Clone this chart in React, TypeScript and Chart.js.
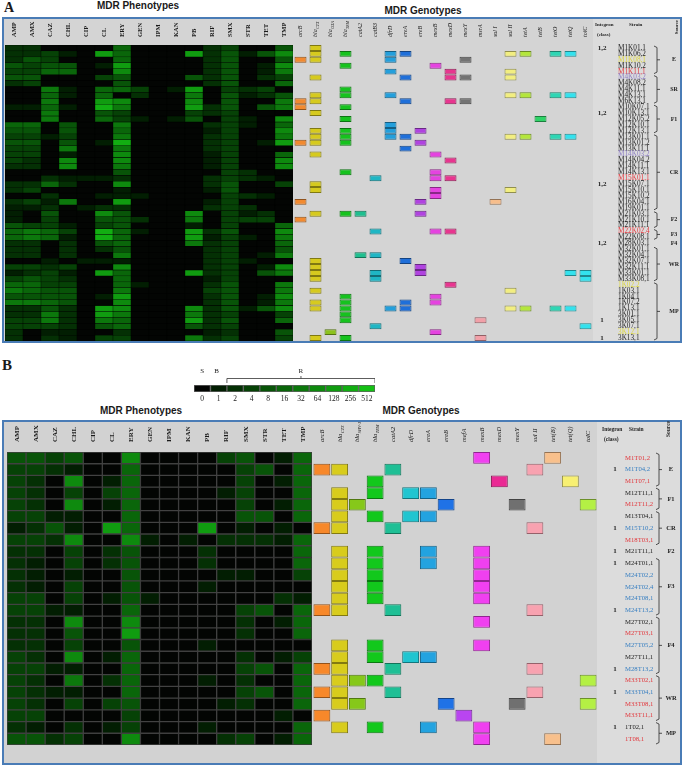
import React, { useEffect, useRef } from 'react';
import { Chart, registerables } from 'chart.js';

Chart.register(...registerables);

// ---------------- data ----------------
const phenotypes = ['AMP', 'AMX', 'CAZ', 'CHL', 'CIP', 'CL', 'ERY', 'GEN', 'IPM', 'KAN', 'PB', 'RIF', 'SMX', 'STR', 'TET', 'TMP'];
const micLabels = ['0', '1', '2', '4', '8', '16', '32', '64', '128', '256', '512'];
const micLegendLevels = [0, 1, 2, 3, 4, 5, 6, 7, 8, 9, 10];

// ---- Panel A ----
const strainsA = ['M1K01,1', 'M1K06,2', 'M1K08,1', 'M1K10,2', 'M1K11,1', 'M4K03,2', 'M4K08,2', 'M4K11,1', 'M4K13,1', 'M6K13,1',
  'M10K07,1', 'M10K13,1', 'M12K05,2', 'M12K10,1', 'M12K13,1', 'M13K01,1', 'M13K01,2', 'M13K11,1', 'M14K03,2', 'M14K04,2',
  'M14K11,1', 'M14K13,1', 'M15K01,1', 'M15K07,1', 'M15K10,1', 'M15K10,2', 'M16K04,1', 'M19K01,1', 'M21K03,1', 'M21K10,1',
  'M21K11,1', 'M22K02,4', 'M22K08,1', 'M28K03,1', 'M32K01,1', 'M32K04,1', 'M32K07,1', 'M32K11,1', 'M33K01,1', 'M33K08,1',
  '1K02,2', '1K03,1', '1K04,1', '1K07,2', '1K13,1', '3K01,1', '3K05,1', '3K07,1', '3K12,1', '3K13,1'];
const strainTintA = 'kkykrpkkkkkkkkkkkkpkkkrkkkkkkkkrkkkkkkkkykkkkkkkyk'.split('');
const integronA: Record<number, string> = { 0: '1,2', 11: '1,2', 23: '1,2', 33: '1,2', 46: '1', 49: '1' };
const sourceNamesA = ['E', 'SR', 'F1', 'CR', 'F2', 'F3', 'F4', 'WR', 'MP'];
const sourceStartsA = [0, 5, 10, 15, 28, 31, 33, 34, 40];
const genesA = ['arcB', 'bla_CTX', 'bla_OXA', 'bla_TEM', 'catA2', 'catB3', 'dfrD', 'ereA', 'ereB', 'mexB', 'mexD', 'mexY', 'msrA', 'sul I', 'sul II', 'tetA', 'tetB', 'tetO', 'tetQ', 'tolC'];
const geneColorsA = ['#f28a30', '#d6ca1e', '#8cc21c', '#16c21e', '#1fbf8f', '#1fb6c4', '#239fdc', '#1f6fd9', '#b043e0', '#e543e0',
  '#e8358f', '#737373', '#f2a0a8', '#f7be8c', '#f2ee80', '#b4e63c', '#2fd367', '#2fd6b4', '#33e2ee', '#33e2ee'];
// MIC level (0 = 0 ... 10 = 512) per strain, columns in phenotype order
const micA = [
  [2, 2, 0, 0, 0, 0, 5, 0, 0, 0, 0, 2, 3, 0, 0, 4],
  [2, 2, 3, 1, 0, 8, 5, 0, 0, 0, 8, 2, 4, 1, 4, 7],
  [2, 4, 3, 0, 0, 0, 5, 0, 0, 0, 0, 2, 4, 0, 0, 4],
  [4, 3, 4, 4, 0, 1, 8, 0, 0, 0, 0, 2, 4, 0, 1, 7],
  [3, 3, 5, 5, 0, 0, 7, 0, 0, 0, 0, 2, 4, 0, 1, 6],
  [4, 4, 0, 0, 0, 3, 4, 0, 0, 0, 4, 2, 4, 0, 2, 3],
  [2, 3, 0, 0, 0, 0, 4, 0, 0, 0, 0, 2, 4, 0, 0, 5],
  [0, 0, 6, 1, 0, 5, 5, 3, 0, 1, 8, 0, 3, 2, 3, 0],
  [0, 0, 5, 1, 0, 5, 0, 2, 0, 0, 6, 0, 4, 1, 2, 4],
  [0, 0, 6, 0, 0, 8, 7, 0, 0, 0, 7, 0, 4, 0, 0, 6],
  [1, 1, 5, 1, 0, 9, 6, 0, 0, 0, 8, 2, 4, 0, 4, 6],
  [0, 0, 6, 0, 0, 4, 3, 0, 0, 0, 3, 2, 3, 0, 0, 0],
  [0, 0, 6, 0, 0, 5, 3, 1, 0, 1, 4, 0, 3, 1, 0, 7],
  [5, 5, 0, 4, 0, 0, 6, 0, 0, 0, 0, 2, 3, 1, 0, 5],
  [4, 4, 0, 4, 0, 0, 5, 0, 0, 0, 0, 1, 3, 0, 0, 7],
  [3, 3, 1, 3, 0, 0, 6, 0, 0, 0, 0, 2, 3, 0, 0, 6],
  [4, 4, 0, 4, 0, 1, 9, 0, 0, 0, 0, 2, 3, 0, 1, 8],
  [3, 3, 0, 6, 0, 0, 6, 0, 0, 0, 0, 2, 3, 0, 0, 0],
  [3, 3, 0, 1, 0, 0, 7, 0, 0, 0, 0, 1, 3, 0, 0, 5],
  [3, 2, 0, 7, 0, 0, 7, 0, 0, 0, 0, 1, 3, 0, 0, 7],
  [2, 2, 0, 7, 0, 0, 6, 0, 0, 0, 0, 1, 3, 0, 0, 7],
  [0, 0, 0, 0, 0, 0, 4, 0, 0, 0, 0, 0, 3, 2, 0, 0],
  [0, 0, 2, 1, 1, 1, 2, 0, 0, 0, 0, 2, 3, 2, 1, 0],
  [2, 2, 5, 2, 0, 0, 7, 0, 0, 0, 0, 2, 4, 0, 0, 3],
  [2, 3, 0, 0, 0, 0, 1, 0, 0, 0, 0, 1, 4, 0, 0, 0],
  [0, 0, 2, 0, 0, 1, 1, 1, 0, 0, 0, 0, 3, 2, 1, 0],
  [2, 3, 1, 6, 0, 0, 8, 0, 0, 0, 0, 1, 3, 0, 0, 0],
  [1, 1, 2, 0, 1, 2, 2, 0, 0, 0, 0, 2, 3, 2, 0, 0],
  [1, 0, 4, 0, 0, 7, 4, 0, 0, 0, 7, 0, 3, 1, 2, 0],
  [1, 0, 3, 0, 0, 4, 4, 2, 0, 0, 6, 0, 3, 3, 3, 0],
  [4, 3, 3, 1, 0, 3, 4, 0, 0, 0, 1, 0, 3, 0, 0, 5],
  [5, 6, 5, 3, 0, 9, 5, 1, 0, 0, 8, 2, 4, 0, 0, 7],
  [5, 6, 5, 1, 0, 9, 5, 0, 0, 0, 8, 1, 3, 1, 0, 6],
  [2, 2, 0, 2, 0, 4, 5, 0, 0, 0, 6, 2, 3, 0, 0, 5],
  [2, 2, 0, 2, 0, 2, 4, 0, 0, 0, 0, 2, 3, 0, 0, 4],
  [2, 2, 0, 2, 0, 0, 6, 0, 0, 0, 0, 2, 3, 0, 1, 6],
  [0, 0, 1, 0, 1, 1, 1, 0, 0, 0, 0, 2, 3, 1, 0, 0],
  [3, 3, 2, 3, 0, 0, 7, 0, 0, 0, 0, 2, 3, 0, 1, 7],
  [1, 2, 3, 1, 0, 8, 5, 0, 0, 0, 8, 2, 3, 0, 4, 6],
  [3, 4, 3, 2, 0, 0, 5, 0, 0, 0, 0, 1, 3, 0, 0, 0],
  [5, 5, 3, 3, 0, 0, 5, 1, 0, 0, 0, 2, 4, 0, 0, 6],
  [6, 5, 4, 4, 0, 0, 6, 0, 0, 0, 0, 3, 4, 0, 0, 6],
  [4, 4, 4, 4, 0, 1, 8, 0, 0, 0, 0, 2, 4, 0, 1, 7],
  [6, 6, 5, 4, 0, 0, 7, 0, 0, 0, 0, 2, 4, 0, 1, 6],
  [2, 2, 4, 2, 0, 8, 7, 0, 0, 0, 7, 2, 4, 1, 4, 7],
  [2, 2, 6, 2, 0, 8, 6, 0, 0, 0, 6, 2, 3, 0, 0, 3],
  [3, 3, 6, 2, 0, 6, 5, 0, 0, 0, 8, 2, 4, 0, 0, 5],
  [3, 3, 3, 2, 0, 4, 5, 0, 0, 0, 4, 2, 3, 0, 0, 0],
  [2, 0, 1, 1, 0, 0, 2, 0, 0, 0, 0, 1, 2, 0, 0, 4],
  [2, 0, 2, 1, 0, 3, 3, 0, 0, 0, 6, 2, 3, 0, 0, 3],
];
// genes detected per strain (indices into genesA)
const genotypeA = [
  [1], [1, 3, 6, 7, 14, 15, 17, 18], [0, 1, 6, 11], [3, 9], [6, 10, 14], [1, 7, 10, 11, 14], [], [3],
  [1, 3, 6, 14, 15, 17, 18], [0, 1, 7, 10, 11], [0, 3], [1], [3, 16], [6], [1, 3, 6, 8], [1, 3, 6, 7, 14, 15, 17, 18],
  [0, 1, 3, 8], [7], [1, 9], [10], [], [3, 9], [5, 9, 10], [1], [1, 9, 14], [9], [0, 8, 13], [], [1, 3, 4, 8], [0],
  [], [5, 9, 10], [], [], [], [4, 5], [1, 7], [1, 8], [1, 5, 8, 18, 19], [1, 5, 19], [10], [1, 14], [3, 9], [1, 3, 7, 9],
  [1, 3, 6, 7, 14, 15, 17, 18], [3], [3, 12], [5, 19], [2, 9], [1, 3, 12],
];

// ---- Panel B ----
const strainsB = ['M1T01,2', 'M1T04,2', 'M1T07,1', 'M12T11,1', 'M12T11,2', 'M13T04,1', 'M15T10,2', 'M18T03,1', 'M21T11,1',
  'M24T01,1', 'M24T02,2', 'M24T02,4', 'M24T08,1', 'M24T13,2', 'M27T02,1', 'M27T03,1', 'M27T05,2', 'M27T11,1', 'M28T13,2',
  'M33T02,1', 'M33T04,1', 'M33T08,1', 'M33T11,1', '1T02,1', '1T08,1'];
const strainTintB = 'rbrkrkbrkkbbbbkrbkbrbrrkr'.split('');
const integronB: Record<number, string> = { 1: '1', 6: '1', 8: '1', 9: '1', 13: '1', 18: '1', 20: '1', 23: '1' };
const sourceNamesB = ['E', 'F1', 'CR', 'F2', 'F3', 'F4', 'WR', 'MP'];
const sourceStartsB = [0, 3, 5, 8, 9, 14, 19, 23];
const genesB = ['arcB', 'bla_CTX', 'bla_SHV-1', 'bla_TEM', 'catA2', 'dfrD', 'ereA', 'ereB', 'mefA', 'mexB', 'mexD', 'mexY', 'sul II', 'tet(B)', 'tet(Q)', 'tolC'];
const geneColorsB = ['#f7882a', '#d8cc1c', '#86c81a', '#12c81c', '#1fbf95', '#20c5d0', '#23a3e0', '#1f72e6', '#b945f0', '#f040f0',
  '#ea2a94', '#707070', '#f8a2b0', '#f8c08c', '#f8f072', '#b4f044'];
const micB = [
  [4, 4, 3, 4, 0, 0, 7, 0, 0, 0, 0, 3, 4, 0, 1, 5],
  [3, 3, 2, 1, 0, 0, 5, 0, 0, 0, 0, 0, 3, 4, 0, 5],
  [3, 2, 0, 7, 0, 1, 5, 0, 0, 0, 0, 0, 3, 0, 1, 5],
  [3, 2, 0, 3, 0, 3, 5, 0, 0, 0, 0, 1, 3, 0, 0, 5],
  [3, 2, 0, 7, 0, 1, 5, 0, 0, 0, 0, 0, 3, 0, 1, 5],
  [3, 3, 1, 1, 0, 0, 5, 0, 0, 0, 0, 0, 4, 4, 0, 5],
  [1, 2, 4, 1, 0, 8, 5, 0, 0, 0, 8, 0, 1, 0, 1, 0],
  [3, 3, 2, 7, 0, 0, 7, 1, 0, 1, 0, 2, 2, 2, 1, 5],
  [2, 2, 0, 3, 0, 2, 4, 0, 0, 0, 2, 0, 0, 0, 0, 5],
  [2, 1, 0, 3, 0, 2, 4, 0, 0, 0, 2, 0, 0, 0, 0, 5],
  [2, 1, 0, 1, 0, 0, 4, 0, 0, 0, 0, 1, 1, 0, 0, 3],
  [2, 1, 0, 3, 0, 0, 4, 0, 0, 0, 1, 0, 0, 0, 0, 0],
  [3, 3, 0, 3, 0, 1, 4, 1, 0, 0, 0, 0, 0, 0, 2, 1],
  [3, 3, 1, 1, 0, 0, 5, 0, 0, 0, 0, 0, 3, 4, 0, 5],
  [2, 2, 0, 7, 0, 0, 7, 0, 0, 0, 0, 0, 2, 0, 1, 5],
  [2, 2, 0, 4, 0, 0, 8, 0, 0, 0, 0, 0, 2, 0, 0, 5],
  [2, 2, 0, 3, 0, 0, 4, 0, 0, 0, 1, 0, 0, 0, 0, 0],
  [3, 2, 0, 7, 0, 1, 5, 0, 0, 0, 0, 0, 2, 0, 1, 3],
  [3, 3, 1, 1, 0, 0, 5, 0, 0, 0, 0, 0, 3, 4, 0, 5],
  [3, 2, 0, 6, 0, 2, 5, 0, 0, 0, 1, 0, 2, 0, 0, 5],
  [3, 2, 1, 1, 0, 0, 5, 0, 0, 0, 0, 0, 3, 4, 0, 5],
  [3, 2, 0, 3, 0, 3, 4, 0, 0, 0, 0, 1, 2, 0, 0, 5],
  [3, 3, 0, 0, 0, 0, 3, 0, 0, 0, 0, 0, 0, 0, 1, 0],
  [2, 1, 0, 2, 0, 1, 3, 0, 0, 0, 1, 0, 0, 0, 0, 5],
  [4, 4, 2, 3, 0, 0, 7, 0, 0, 0, 0, 2, 3, 0, 1, 5],
];
const genotypeB = [
  [9, 13], [0, 1, 4, 12], [3, 10, 14], [1, 3, 5, 6], [1, 2, 7, 11, 15], [1, 3, 5, 6], [0, 1, 4, 12], [],
  [1, 3, 6, 9], [1, 3, 6, 9], [1, 3, 9], [1, 3, 9], [1, 3, 9], [0, 1, 4, 12], [9], [], [1, 3, 9], [1, 3, 5, 6],
  [0, 1, 4, 12], [1, 2, 3, 15], [0, 1, 4, 12], [1, 2, 7, 11, 15], [0, 8], [1, 3, 6, 9], [9, 13],
];

// ---------------- helpers ----------------
const SERIF = '"Liberation Serif", "Times New Roman", serif';
const tintColor: Record<string, string> = { k: '#1e1e1e', r: '#e2383d', b: '#3a80c2', y: '#dcd640', p: '#8e7fc4' };
const heatColor = (v: number) => (v <= 0 ? 'rgb(3,5,3)' : `rgb(${2 * v},${12 + 18 * v},${2 * v})`);
const shade = (hex: string, f: number) => {
  const n = parseInt(hex.slice(1), 16);
  return `rgb(${Math.round(((n >> 16) & 255) * f)},${Math.round(((n >> 8) & 255) * f)},${Math.round((n & 255) * f)})`;
};

function columnHeaders(id: string, labels: string[], f: { size: number; style: string; weight: string; gap: number }) {
  return {
    id,
    afterDraw(chart: any) {
      const { ctx, chartArea: a, scales } = chart;
      const x = scales.x;
      ctx.save();
      ctx.fillStyle = '#1a1a1a';
      labels.forEach((lab, i) => {
        const [base, sub] = lab.split('_');
        const px = x.getPixelForValue(i);
        ctx.save();
        ctx.translate(px + f.size * 0.32, a.top - f.gap);
        ctx.rotate(-Math.PI / 2);
        ctx.textAlign = 'left';
        ctx.textBaseline = 'alphabetic';
        ctx.font = `${f.style} ${f.weight} ${f.size}px ${SERIF}`;
        ctx.fillText(base, 0, 0);
        if (sub) {
          const w = ctx.measureText(base).width;
          ctx.font = `${f.style} ${f.weight} ${(f.size * 0.68).toFixed(2)}px ${SERIF}`;
          ctx.fillText(sub, w + 0.4, f.size * 0.3);
        }
        ctx.restore();
      });
      ctx.restore();
    },
  };
}

// dark backing under the heatmap so anti-aliased cell seams stay dark
const heatBacking = {
  id: 'heatBacking',
  beforeDatasetsDraw(chart: any) {
    const { ctx, chartArea: a } = chart;
    ctx.save();
    ctx.fillStyle = '#050705';
    ctx.fillRect(a.left, a.top, a.right - a.left, a.bottom - a.top);
    ctx.restore();
  },
};

type Side = {
  integron: Record<number, string>; names: string[]; starts: number[]; n: number;
  headSize: number; intSize: number; srcSize: number;
  intHeadX: number; strainHeadX: number; sourceHeadX: number; headY1: number; headY2: number; sourceHeadY: number;
  intX: number; brX: number; srcX: number;
};

function sideInfo(id: string, o: Side) {
  return {
    id,
    afterDraw(chart: any) {
      const { ctx, chartArea: a, scales } = chart;
      const y = scales.y;
      const R = a.right;
      ctx.save();
      ctx.fillStyle = '#1e1e1e';
      ctx.strokeStyle = '#2a2a2a';
      ctx.lineWidth = 0.8;
      ctx.textBaseline = 'middle';
      ctx.textAlign = 'left';
      ctx.font = `bold ${o.headSize}px ${SERIF}`;
      ctx.fillText('Integron', R + o.intHeadX, a.top + o.headY1);
      ctx.fillText('(class)', R + o.intHeadX + 2, a.top + o.headY2);
      ctx.fillText('Strain', R + o.strainHeadX, a.top + o.headY1);
      ctx.save();
      ctx.translate(R + o.sourceHeadX, a.top + o.sourceHeadY);
      ctx.rotate(-Math.PI / 2);
      ctx.textAlign = 'center';
      ctx.fillText('Source', 0, 0);
      ctx.restore();

      ctx.textAlign = 'center';
      ctx.font = `bold ${o.intSize}px ${SERIF}`;
      Object.entries(o.integron).forEach(([r, t]) => {
        ctx.fillText(t, R + o.intX, y.getPixelForValue(Number(r) + 0.5));
      });

      ctx.font = `bold ${o.srcSize}px ${SERIF}`;
      o.names.forEach((name, g) => {
        const first = o.starts[g];
        const last = g + 1 < o.starts.length ? o.starts[g + 1] : o.n;
        const y0 = y.getPixelForValue(first) + 1;
        const y1 = y.getPixelForValue(last) - 1;
        const ym = (y0 + y1) / 2;
        const bx = R + o.brX;
        if (last - first > 1) {
          ctx.beginPath();
          ctx.moveTo(bx - 3, y0);
          ctx.lineTo(bx, y0 + 1.5);
          ctx.lineTo(bx, y1 - 1.5);
          ctx.lineTo(bx - 3, y1);
          ctx.moveTo(bx, ym);
          ctx.lineTo(bx + 3, ym);
          ctx.stroke();
        }
        ctx.fillText(name, R + o.srcX, ym);
      });
      ctx.restore();
    },
  };
}

const baseOptions = {
  animation: false,
  responsive: false,
  events: [],
  plugins: { legend: { display: false }, tooltip: { enabled: false } },
};

function heatConfig(mic: number[][], s: { headTop: number; bottom: number; font: number; gap: number; border: string; bw: number }) {
  const n = mic.length;
  return {
    type: 'bar',
    data: {
      labels: phenotypes,
      datasets: mic.map((row, r) => ({
        data: row.map(() => [r, r + 1]),
        backgroundColor: row.map(heatColor),
        borderColor: s.border,
        borderWidth: s.bw,
        borderSkipped: false,
        barPercentage: 1,
        categoryPercentage: 1,
        grouped: false,
      })),
    },
    options: {
      ...baseOptions,
      layout: { padding: { top: s.headTop, bottom: s.bottom, left: 0, right: 0 } },
      scales: {
        x: { type: 'category', offset: true, display: false },
        y: { type: 'linear', min: 0, max: n, reverse: true, display: false },
      },
    },
    plugins: [heatBacking, columnHeaders('phenoHead', phenotypes, { size: s.font, style: 'normal', weight: 'bold', gap: s.gap })],
  };
}

function geneConfig(o: {
  genes: string[]; colors: string[]; rows: number[][]; strains: string[]; tints: string[];
  headTop: number; bottom: number; axisW: number; tickPad: number; tickSize: number; barPct: number;
  headSize: number; headGap: number; side: Side;
}) {
  const n = o.rows.length;
  return {
    type: 'bar',
    data: {
      labels: o.genes,
      datasets: o.rows.map((g, r) => ({
        data: o.genes.map((_, j) => (g.includes(j) ? [r, r + 1] : null)),
        backgroundColor: o.colors,
        borderColor: o.colors.map((c) => shade(c, 0.6)),
        borderWidth: 1,
        borderSkipped: false,
        barPercentage: o.barPct,
        categoryPercentage: 1,
        grouped: false,
      })),
    },
    options: {
      ...baseOptions,
      layout: { padding: { top: o.headTop, bottom: o.bottom, left: 0, right: 0 } },
      scales: {
        x: { type: 'category', offset: true, display: false },
        y: {
          type: 'linear', min: 0, max: n, reverse: true, position: 'right',
          grid: { display: false, drawTicks: false },
          border: { display: false },
          afterBuildTicks: (s: any) => { s.ticks = o.strains.map((_, i) => ({ value: i + 0.5 })); },
          afterFit: (s: any) => { s.width = o.axisW; s.paddingTop = 0; s.paddingBottom = 0; },
          ticks: {
            autoSkip: false,
            padding: o.tickPad,
            font: { family: SERIF, size: o.tickSize },
            color: (c: any) => tintColor[o.tints[c.index]] || '#1e1e1e',
            callback: (_v: any, i: number) => o.strains[i],
          },
        },
      },
    },
    plugins: [
      columnHeaders('geneHead', o.genes, { size: o.headSize, style: 'italic', weight: 'normal', gap: o.headGap }),
      sideInfo('sideInfo', o.side),
    ],
  };
}

function legendConfig() {
  return {
    type: 'bar',
    data: {
      labels: micLabels,
      datasets: [{
        data: micLegendLevels.map(() => 1),
        backgroundColor: micLegendLevels.map(heatColor),
        borderColor: 'rgba(80,80,80,0.9)',
        borderWidth: 1,
        borderSkipped: false,
        barPercentage: 1,
        categoryPercentage: 1,
      }],
    },
    options: {
      ...baseOptions,
      layout: { padding: { top: 23, left: 0, right: 0, bottom: 0 } },
      scales: {
        x: {
          type: 'category', offset: true,
          grid: { display: false, drawTicks: false },
          border: { display: false },
          afterFit: (s: any) => { s.height = 12; s.paddingLeft = 0; s.paddingRight = 0; },
          ticks: { font: { family: SERIF, size: 7.5 }, color: '#222', padding: 3, autoSkip: false, maxRotation: 0, minRotation: 0 },
        },
        y: { type: 'linear', min: 0, max: 1, display: false },
      },
    },
    plugins: [{
      id: 'legendMarks',
      afterDraw(chart: any) {
        const { ctx, chartArea: a, scales } = chart;
        const x = scales.x;
        const half = (x.getPixelForValue(1) - x.getPixelForValue(0)) / 2;
        ctx.save();
        ctx.fillStyle = '#222';
        ctx.strokeStyle = '#333';
        ctx.lineWidth = 0.8;
        ctx.font = `7px ${SERIF}`;
        ctx.textAlign = 'center';
        ctx.textBaseline = 'alphabetic';
        ctx.fillText('S', x.getPixelForValue(0), a.top - 12);
        ctx.fillText('B', x.getPixelForValue(1) - 2, a.top - 12);
        const x0 = x.getPixelForValue(2) - half;
        const x1 = x.getPixelForValue(micLabels.length - 1) + half;
        const xm = (x0 + x1) / 2;
        const yl = a.top - 6.5;
        ctx.beginPath();
        ctx.moveTo(x0, a.top - 2);
        ctx.lineTo(x0, yl);
        ctx.lineTo(x1, yl);
        ctx.lineTo(x1, a.top - 2);
        ctx.moveTo(xm, yl);
        ctx.lineTo(xm, yl - 2.5);
        ctx.stroke();
        ctx.fillText('R', xm, a.top - 12);
        ctx.restore();
      },
    }],
  };
}

// ---------------- components ----------------
function ChartCanvas({ left, top, width, height, make }: { left: number; top: number; width: number; height: number; make: () => any }) {
  const ref = useRef<HTMLCanvasElement>(null);
  useEffect(() => {
    const chart = new Chart(ref.current as HTMLCanvasElement, make());
    return () => chart.destroy();
  }, []);
  return <canvas ref={ref} width={width} height={height} style={{ position: 'absolute', left, top, width, height }} />;
}

function Txt({ left, top, width, size, children, family, align }: any) {
  return (
    <div style={{
      position: 'absolute', left, top, width, fontSize: size, lineHeight: `${size}px`, fontWeight: 'bold',
      fontFamily: family, textAlign: align || 'left', whiteSpace: 'nowrap', color: '#1a1a1a',
    }}>{children}</div>
  );
}

const SANS = '"Liberation Sans", Arial, sans-serif';
const BORDER = '#4a7cb6';

export default function App() {
  const sideA: Side = {
    integron: integronA, names: sourceNamesA, starts: sourceStartsA, n: strainsA.length,
    headSize: 5, intSize: 7, srcSize: 6,
    intHeadX: 2, strainHeadX: 36, sourceHeadX: 84, headY1: -20, headY2: -10, sourceHeadY: -18,
    intX: 9, brX: 64, srcX: 81,
  };
  const sideB: Side = {
    integron: integronB, names: sourceNamesB, starts: sourceStartsB, n: strainsB.length,
    headSize: 5.5, intSize: 7, srcSize: 6.5,
    intHeadX: 5, strainHeadX: 32, sourceHeadX: 72, headY1: -22, headY2: -12, sourceHeadY: -23,
    intX: 18, brX: 62, srcX: 74,
  };
  return (
    <div style={{ position: 'absolute', left: 0, top: 0, width: 683, height: 766, background: '#fff', overflow: 'hidden' }}>
      {/* Panel A */}
      <Txt left={4} top={1} size={14} family={SERIF}>A</Txt>
      <Txt left={58} top={1} width={160} size={10} family={SANS} align="center">MDR Phenotypes</Txt>
      <Txt left={343} top={6} width={160} size={10} family={SANS} align="center">MDR Genotypes</Txt>
      <div style={{ position: 'absolute', left: 2, top: 17, width: 680, height: 326, boxSizing: 'border-box', border: `2px solid ${BORDER}`, background: '#d4d4d4' }} />
      <div style={{ position: 'absolute', left: 593, top: 19, width: 87, height: 322, background: '#dcdcdc' }} />
      <ChartCanvas left={5} top={18} width={288} height={325}
        make={() => heatConfig(micA, { headTop: 27, bottom: 2, font: 6.5, gap: 8, border: 'rgba(0,0,0,0.55)', bw: 0.5 })} />
      <ChartCanvas left={293} top={18} width={387} height={325}
        make={() => geneConfig({
          genes: genesA, colors: geneColorsA, rows: genotypeA, strains: strainsA, tints: strainTintA,
          headTop: 27, bottom: 2, axisW: 87, tickPad: 25, tickSize: 7.25, barPct: 0.8, headSize: 6, headGap: 8, side: sideA,
        })} />

      {/* Panel B */}
      <Txt left={2} top={358} size={15} family={SERIF}>B</Txt>
      <ChartCanvas left={194} top={362} width={181} height={42} make={legendConfig} />
      <Txt left={61} top={406} width={160} size={10} family={SANS} align="center">MDR Phenotypes</Txt>
      <Txt left={341} top={406} width={160} size={10} family={SANS} align="center">MDR Genotypes</Txt>
      <div style={{ position: 'absolute', left: 2, top: 420, width: 680, height: 345, boxSizing: 'border-box', border: `2px solid ${BORDER}`, background: '#d2d2d2' }} />
      <div style={{ position: 'absolute', left: 597, top: 422, width: 83, height: 341, background: '#dcdcdc' }} />
      <ChartCanvas left={7} top={421} width={305} height={343}
        make={() => heatConfig(micB, { headTop: 31, bottom: 19, font: 7, gap: 10, border: 'rgba(70,70,70,0.9)', bw: 1 })} />
      <ChartCanvas left={313} top={421} width={367} height={343}
        make={() => geneConfig({
          genes: genesB, colors: geneColorsB, rows: genotypeB, strains: strainsB, tints: strainTintB,
          headTop: 31, bottom: 19, axisW: 83, tickPad: 28, tickSize: 6.7, barPct: 0.95, headSize: 6.5, headGap: 10, side: sideB,
        })} />
    </div>
  );
}
